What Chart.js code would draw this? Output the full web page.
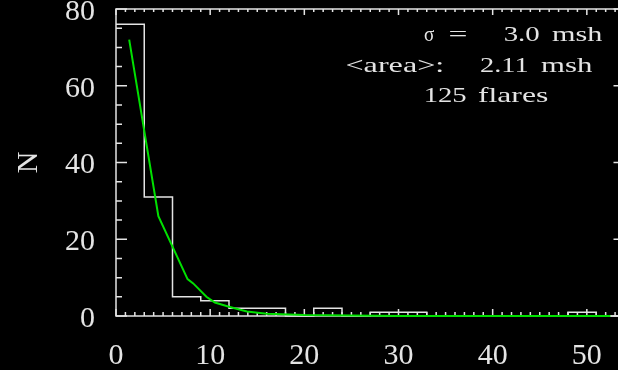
<!DOCTYPE html>
<html>
<head>
<meta charset="utf-8">
<script src="https://cdn.jsdelivr.net/npm/chart.js@4"></script>
<style>
  html, body { margin: 0; padding: 0; background: #000; overflow: hidden; }
  #wrap { width: 618px; height: 370px; overflow: hidden; }
</style>
</head>
<body>
<div id="wrap"><canvas id="hist" width="640" height="370"></canvas></div>
<script>
// flare area histogram, 3 msh bins
const binStarts = [0, 3, 6, 9, 12, 15, 18, 21, 24, 27, 30, 33, 36, 39, 42, 45, 48, 51];
const binCounts = [76, 31, 5, 4, 2, 2, 0, 2, 0, 1, 1, 0, 0, 0, 0, 0, 1, 0];
const binWidth = 3;

// fitted distribution (green)
const fitX = [1.4, 4.5, 7.6, 8.2, 9.6, 10.5, 12, 13.9, 16, 20, 25, 30, 52.5];
const fitY = [72, 26, 9.6, 8.5, 5.0, 3.5, 2.4, 1.2, 0.6, 0.25, 0.1, 0, 0];

const xTicks = [0, 10, 20, 30, 40, 50];
const yTicks = [0, 20, 40, 60, 80];
const xMax = 54, yMax = 80;

const sigma = 3.0;
const meanArea = 2.11;
const nFlares = binCounts.reduce((a, b) => a + b, 0);

const ink = '#e4e4e4';
const serif = '"Liberation Serif", "DejaVu Serif", serif';

// step outline: each bin's level runs from its start to the next edge
const histPts = binStarts.map((x, i) => ({x, y: binCounts[i]}));
histPts.push({x: binStarts[binStarts.length - 1] + binWidth, y: binCounts[binCounts.length - 1]});
const fitPts = fitX.map((x, i) => ({x, y: fitY[i]}));

// box frame with inward ticks on all four sides
const frame = {
  id: 'frame',
  beforeDatasetsDraw(chart) {
    const {ctx, chartArea: a, scales: {x, y}} = chart;
    ctx.save();
    ctx.strokeStyle = ink;
    ctx.lineWidth = 1.5;
    ctx.strokeRect(a.left, a.top, a.right - a.left, a.bottom - a.top);
    ctx.beginPath();
    for (let v = 0; v <= xMax; v++) {
      const px = x.getPixelForValue(v);
      const major = v % 10 === 0;
      ctx.moveTo(px, a.bottom); ctx.lineTo(px, a.bottom - (major ? 7 : 4));
      ctx.moveTo(px, a.top); ctx.lineTo(px, a.top + (major ? 6 : 3));
    }
    for (let v = 0; v <= yMax; v += 5) {
      const py = y.getPixelForValue(v);
      const len = v % 20 === 0 ? 11 : 6;
      ctx.moveTo(a.left, py); ctx.lineTo(a.left + len, py);
      ctx.moveTo(a.right, py); ctx.lineTo(a.right - len, py);
    }
    ctx.stroke();
    ctx.restore();
  },
  afterDraw(chart) {
    const ctx = chart.ctx;
    // [text, left, baseline, ink width]
    const notes = [
      ['σ', 424, 40.5, 10],
      ['=', 450, 40.5, 16],
      [sigma.toFixed(1), 505, 40.5, 34],
      ['msh', 552, 40.5, 51],
      ['<area>:', 347, 71.5, 96],
      [meanArea.toFixed(2), 480, 71.5, 48],
      ['msh', 541, 71.5, 52],
      [String(nFlares), 425, 101.5, 41],
      ['flares', 478, 101.5, 70]
    ];
    ctx.save();
    ctx.fillStyle = ink;
    ctx.font = '21px ' + serif;
    ctx.textBaseline = 'alphabetic';
    ctx.textAlign = 'left';
    notes.forEach(([t, x0, y0, w]) => {
      const m = ctx.measureText(t);
      const inkW = m.actualBoundingBoxLeft + m.actualBoundingBoxRight;
      const sx = w / inkW;
      ctx.save();
      ctx.translate(x0 + m.actualBoundingBoxLeft * sx, y0);
      ctx.scale(sx, 1);
      ctx.fillText(t, 0, 0);
      ctx.restore();
    });
    ctx.restore();
  }
};

new Chart(document.getElementById('hist'), {
  type: 'line',
  data: {
    datasets: [{
      data: fitPts,
      borderColor: '#00e000',
      borderWidth: 2,
      pointRadius: 0,
      tension: 0,
      clip: 4,
      order: 0
    }, {
      data: histPts,
      stepped: 'before',
      borderColor: ink,
      borderWidth: 1.5,
      pointRadius: 0,
      clip: 4,
      order: 1
    }]
  },
  options: {
    responsive: false,
    animation: false,
    layout: {padding: {left: 0, top: 9, right: 15.5, bottom: 0}},
    plugins: {legend: {display: false}, tooltip: {enabled: false}},
    scales: {
      x: {
        type: 'linear',
        min: 0,
        max: xMax,
        grid: {display: false},
        border: {display: false},
        afterBuildTicks: s => { s.ticks = xTicks.map(v => ({value: v})); },
        afterFit: s => { s.height = 54; s.paddingLeft = 0; s.paddingRight = 0; },
        ticks: {
          color: ink,
          font: {family: serif, size: 30},
          padding: 14,
          maxRotation: 0
        }
      },
      y: {
        type: 'linear',
        min: 0,
        max: yMax,
        grid: {display: false},
        border: {display: false},
        afterBuildTicks: s => { s.ticks = yTicks.map(v => ({value: v})); },
        afterFit: s => { s.width = 116; s.paddingTop = 0; s.paddingBottom = 0; },
        title: {
          display: true,
          text: 'N',
          color: ink,
          font: {family: serif, size: 30, lineHeight: 1},
          padding: {top: 14, bottom: 0}
        },
        ticks: {
          color: ink,
          font: {family: serif, size: 30},
          padding: 13,
          labelOffset: 3
        }
      }
    }
  },
  plugins: [frame]
});
</script>
</body>
</html>
